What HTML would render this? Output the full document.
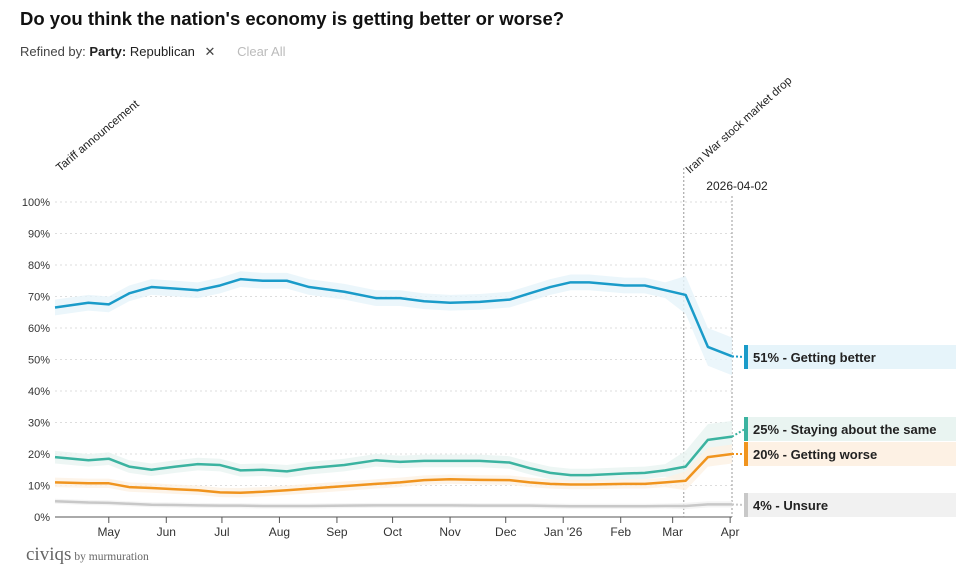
<!DOCTYPE html>
<html><head><meta charset="utf-8">
<style>
body{margin:0;background:#fff;font-family:"Liberation Sans",sans-serif;}
#wrap{position:relative;width:959px;height:573px;overflow:hidden;}
h1{position:absolute;left:20px;top:8px;margin:0;font-size:18.5px;font-weight:bold;color:#111;}
#refine{position:absolute;left:20px;top:44px;font-size:13px;color:#444;}
</style></head><body>
<div id="wrap">
<h1>Do you think the nation's economy is getting better or worse?</h1>
<div id="refine">Refined by: <b style="color:#222">Party:</b> <span style="color:#222">Republican</span> <span style="margin-left:6px;color:#444">✕</span> <span style="margin-left:18px;color:#bbb">Clear All</span></div>
<svg id="svg" width="959" height="573" style="position:absolute;left:0;top:0"></svg>
</div>
<script>
const days=[0,18,29,40,52,65,77,89,100,112,125,137,156,173,186,199,213,229,245,256,267,278,288,307,318,329,340,352,365];
const better=[66.5,68,67.5,71,73,72.5,72,73.5,75.5,75,75,73,71.5,69.5,69.5,68.5,68,68.3,69,71,73,74.5,74.5,73.5,73.5,72,70.5,54,51];
const same=[19,18,18.5,16,15,16,16.8,16.5,14.8,15,14.5,15.5,16.5,18,17.5,17.8,17.8,17.8,17.3,15.5,14,13.3,13.3,13.8,14,14.8,16,24.5,25.5];
const worse=[11,10.7,10.7,9.5,9.2,8.8,8.5,7.8,7.7,8,8.5,9,9.8,10.5,11,11.7,12,11.8,11.7,11,10.5,10.3,10.3,10.5,10.5,11,11.5,19,20];
const unsure=[5,4.6,4.5,4.2,3.9,3.8,3.7,3.6,3.6,3.5,3.5,3.5,3.6,3.7,3.7,3.7,3.7,3.6,3.6,3.6,3.5,3.4,3.4,3.4,3.4,3.5,3.5,4,4];
const yTicks=[0,10,20,30,40,50,60,70,80,90,100];
const monthLabels=["May","Jun","Jul","Aug","Sep","Oct","Nov","Dec","Jan '26","Feb","Mar","Apr"];
const monthDays=[29,60,90,121,152,182,213,243,274,305,333,364];
const legendLabels=["51% - Getting better","25% - Staying about the same","20% - Getting worse","4% - Unsure"];
const NS="http://www.w3.org/2000/svg",svg=document.getElementById('svg');
const X=d=>55+d*(677/365), Y=v=>517-v*3.15;
function mk(t,a,p){const e=document.createElementNS(NS,t);for(const k in a)e.setAttribute(k,a[k]);(p||svg).appendChild(e);return e;}
yTicks.forEach(v=>{
 const g=mk('line',{x1:55,x2:732,y1:Y(v),y2:Y(v),stroke:v?'#ddd':'#555','stroke-dasharray':v?'2,3':'','stroke-width':1});
 
 
 const t=mk('text',{x:50,y:Y(v)+4,'text-anchor':'end','font-size':11,fill:'#333'});t.textContent=v+'%';
 
 
});
monthDays.forEach((d,i)=>{
 const tk=mk('line',{x1:X(d),x2:X(d),y1:517,y2:523,stroke:'#555'});
 
 
 const t=mk('text',{x:X(d),y:536,'text-anchor':'middle','font-size':12,fill:'#333'});t.textContent=monthLabels[i];
 
 
});
[[X(339),168],[X(365),196]].forEach(([x,y0],i)=>{
 const l=mk('line',{x1:x,x2:x,y1:y0,y2:517,stroke:'#999','stroke-dasharray':'2,2'});
 
 
});
const a1=mk('text',{transform:'translate(60,172) rotate(-40)','font-size':11.5,fill:'#222'});a1.textContent='Tariff announcement';


const a2=mk('text',{transform:`translate(${X(339)+6},174) rotate(-42)`,'font-size':11.5,fill:'#222'});a2.textContent='Iran War stock market drop';


const a3=mk('text',{x:737,y:190,'text-anchor':'middle','font-size':12,fill:'#222'});a3.textContent='2026-04-02';


const series=[[better,'#1a9bc9','#e6f4fa','getting-better',[2.5,6]],[same,'#3bb3a0','#e9f4f1','staying-same',[2,5]],[worse,'#f0941e','#fdf1e4','getting-worse',[1.5,3]],[unsure,'#c8c8c8','#f1f1f1','unsure',[0.8,1]]];
series.forEach(([vals,c,fc,name,w])=>{
 const n=vals.length,up=[],dn=[];
 vals.forEach((v,i)=>{const e=i>=n-3?w[1]:w[0];up.push(X(days[i])+','+Y(v+e));dn.unshift(X(days[i])+','+Y(Math.max(0,v-e)));});
 const b=mk('polygon',{points:up.concat(dn).join(' '),fill:fc,opacity:0.8});
 
 
});
series.forEach(([vals,c,fc,name],si)=>{
 const p=mk('polyline',{points:vals.map((v,i)=>X(days[i])+','+Y(v)).join(' '),fill:'none',stroke:c,'stroke-width':2.5,'stroke-linejoin':'round'});
 
 
 const last=vals[vals.length-1];
 const ly=[357,429,454,505][si];
 const d=mk('line',{x1:X(365),y1:Y(last),x2:745,y2:ly,stroke:c,'stroke-dasharray':'2,2','stroke-width':2});
 
 
 const g=mk('g',{});
 
 
 mk('rect',{x:744,y:ly-12,width:212,height:24,fill:fc},g);
 mk('rect',{x:744,y:ly-12,width:4,height:24,fill:c},g);
 const t=mk('text',{x:753,y:ly+5,'font-size':13,'font-weight':'bold',fill:'#222'},g);t.textContent=legendLabels[si];
});
const lg=mk('text',{x:26,y:560,'font-family':'Liberation Serif','font-size':19,fill:'#666'});
lg.innerHTML='civiqs<tspan font-size="11.5" dx="3">by murmuration</tspan>';


</script>
</body></html>
